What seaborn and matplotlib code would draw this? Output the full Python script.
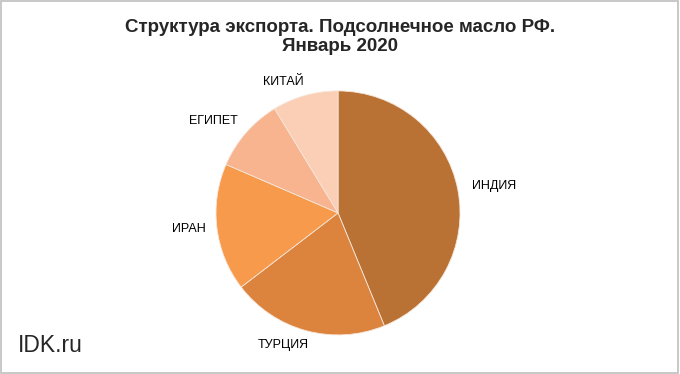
import matplotlib
matplotlib.use('Agg')
import matplotlib.pyplot as plt
import seaborn as sns
from matplotlib.patches import Rectangle

# Export structure, Russian sunflower oil, January 2020 (shares, %)
countries = ['ИНДИЯ', 'ТУРЦИЯ', 'ИРАН', 'ЕГИПЕТ', 'КИТАЙ']
shares = [43.8, 20.8, 16.9, 9.8, 8.7]
slice_colors = ['#BA7234', '#DC843E', '#F79A4B', '#F8B38F', '#FBCEB6']

title_text = 'Структура экспорта. Подсолнечное масло РФ.\nЯнварь 2020'
watermark = 'IDK.ru'

# where each category label sits, in pie-radius units (layout only)
label_xy = [(1.28, 0.22), (-0.45, -1.08), (-1.22, -0.13), (-1.02, 0.75), (-0.45, 1.07)]

sns.set_theme(style='white')
plt.rcParams['font.family'] = ['Liberation Sans', 'DejaVu Sans']

fig = plt.figure(figsize=(6.8, 3.74), dpi=100)
fig.patch.set_facecolor('white')

# square axes so the pie sits where it does in the original
lim = 1.4
ax = fig.add_axes([0.2459, -0.026, 0.5024, 0.9134])
palette = sns.color_palette(slice_colors)
wedges, texts = ax.pie(shares, labels=countries, colors=palette,
                       startangle=90, counterclock=False,
                       wedgeprops=dict(edgecolor='#F5E6DA', linewidth=0.6),
                       textprops=dict(fontsize=9, color='black'))
for t, xy in zip(texts, label_xy):
    t.set_position(xy)
    t.set_ha('center')
    t.set_va('center')
ax.set_xlim(-lim, lim)
ax.set_ylim(-lim, lim)
ax.set_aspect('auto')
ax.axis('off')

fig.text(0.5, 0.9, title_text, ha='center', va='center',
         fontsize=13.5, fontweight='bold', linespacing=1.15,
         family=['Liberation Sans Narrow', 'Liberation Sans', 'DejaVu Sans'])
fig.text(0.026, 0.06, watermark, ha='left', va='baseline', fontsize=16.5)

fig.patches.append(Rectangle((0.002, 0.003), 0.995, 0.993, transform=fig.transFigure,
                             fill=False, edgecolor='#BFBFBF', linewidth=1.2))

fig.savefig('out.png', dpi=100)
